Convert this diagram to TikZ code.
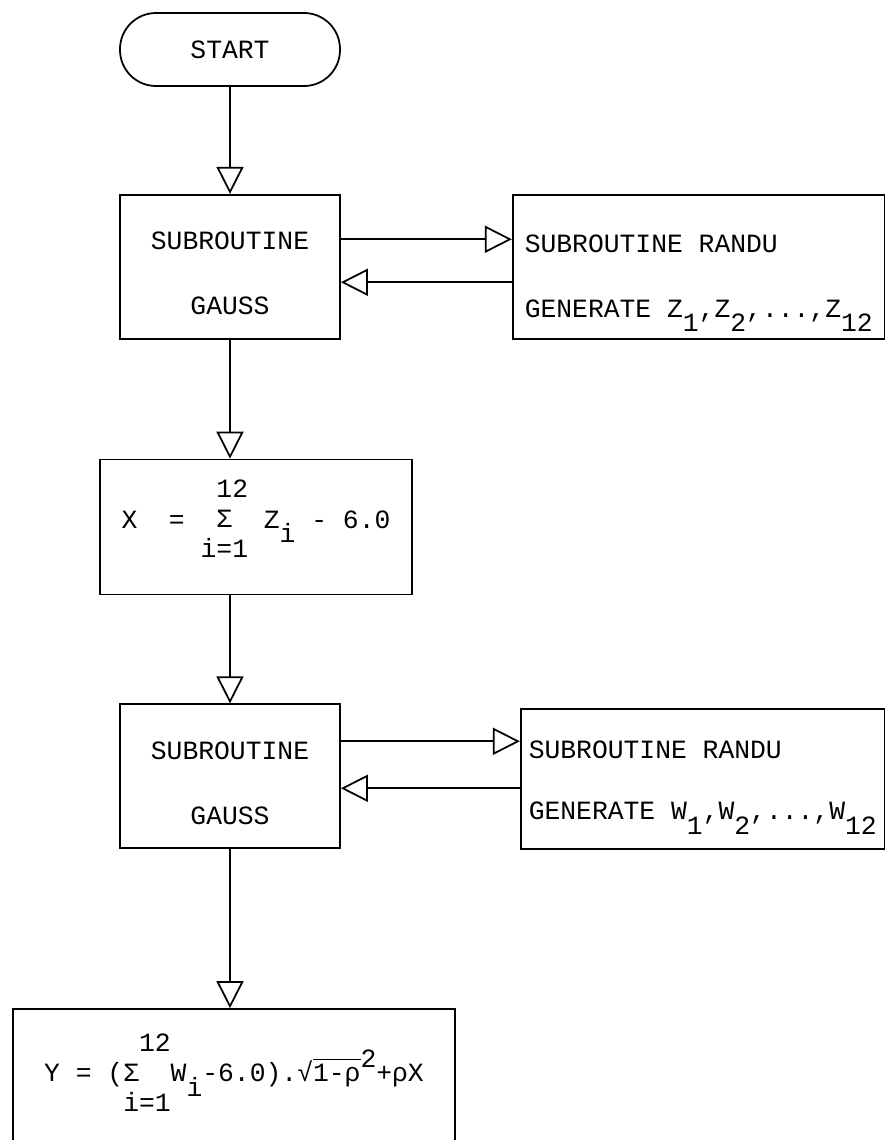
\documentclass[tikz,border=0pt]{standalone}
\usepackage{fontspec}
\setmainfont{Liberation Mono}
\usetikzlibrary{positioning,arrows.meta}

\newcommand{\lowsub}[1]{\raisebox{-0.55em}{#1}}
\newcommand{\highsup}[1]{\raisebox{0.55em}{#1}}
\newcommand{\sumstack}[1]{\begin{tabular}[c]{@{}r@{}}12\\#1\\i=1\end{tabular}}
\newcommand{\rootbar}[1]{\setbox0\hbox{#1}\rlap{\rule[0.8em]{\wd0}{0.8pt}}\box0}

\begin{document}
\begin{tikzpicture}[node distance=2.14cm, every node/.style={font=\fontsize{15}{17}\selectfont}, line width=1pt]
\tikzstyle{termbox}=[rectangle, rounded corners=0.72cm, draw, minimum width=4.4cm, minimum height=1.46cm]
\tikzstyle{procbox}=[rectangle, draw, inner sep=0pt, align=center, minimum width=4.4cm, text height=2.4cm, text depth=0.48cm]
\tikzstyle{callbox}=[rectangle, draw, inner sep=0pt, align=left]
\tikzstyle{formbox}=[rectangle, draw, inner sep=0pt]
\tikzstyle{flow}=[-{Triangle[open, length=0.54cm, width=0.54cm]}]
\useasboundingbox (0,0) rectangle (17.7,-22.8);
\node[termbox] (start) at (4.6,-0.99) {START};
\node[procbox, below=of start] (gauss1) {SUBROUTINE\\[20pt]GAUSS};
\node[callbox, right=3.42cm of gauss1, minimum width=7.44cm, text height=2.45cm, text depth=0.43cm] (randu1) {SUBROUTINE RANDU\\[20pt]GENERATE Z\lowsub{1},Z\lowsub{2},...,Z\lowsub{12}};
\node[formbox, below=2.38cm of gauss1, xshift=0.52cm, minimum width=6.24cm, text height=1.37cm, text depth=1.33cm] (sumx) {X\ \ =\ \sumstack{\phantom{0}Σ\phantom{0}}\ Z\lowsub{i}\ -\ 6.0};
\node[procbox, below=2.16cm of sumx, xshift=-0.52cm] (gauss2) {SUBROUTINE\\[20pt]GAUSS};
\node[callbox, right=3.58cm of gauss2, yshift=-0.06cm, minimum width=7.28cm, text height=2.21cm, text depth=0.59cm] (randu2) {SUBROUTINE RANDU\\[18pt]GENERATE W\lowsub{1},W\lowsub{2},...,W\lowsub{12}};
\node[formbox, below=3.18cm of gauss2, xshift=0.08cm, minimum width=8.84cm, text height=1.45cm, text depth=2cm] (ybox) {Y = (\sumstack{Σ\phantom{00}}W\lowsub{i}-6.0).√\rootbar{1-ρ}\highsup{2}+ρX};
% calls to RANDU and back
\coordinate (g1out) at ([yshift=0.55cm]gauss1.east);
\coordinate (g1in) at ([yshift=-0.31cm]gauss1.east);
\coordinate (g2out) at ([yshift=0.7cm]gauss2.east);
\coordinate (g2in) at ([yshift=-0.24cm]gauss2.east);
\draw[flow] (start) -- (gauss1);
\draw[flow] (g1out) -- (g1out -| randu1.west);
\draw[flow] (g1in -| randu1.west) -- (g1in);
\draw[flow] (gauss1.south) -- (gauss1.south |- sumx.north);
\draw[flow] (gauss2.north |- sumx.south) -- (gauss2.north);
\draw[flow] (g2out) -- (g2out -| randu2.west);
\draw[flow] (g2in -| randu2.west) -- (g2in);
\draw[flow] (gauss2.south) -- (gauss2.south |- ybox.north);
\end{tikzpicture}
\end{document}
